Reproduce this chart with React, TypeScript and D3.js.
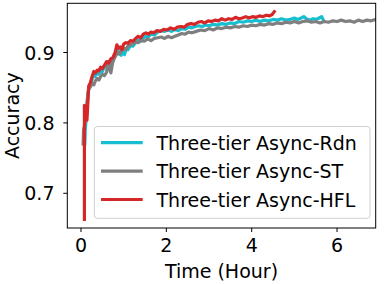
import React from "react";
import * as d3 from "d3";

const xTicks = [0, 2, 4, 6];
const yTicks = [0.7, 0.8, 0.9];
const seriesNames = ["Three-tier Async-Rdn", "Three-tier Async-ST", "Three-tier Async-HFL"];
const seriesColors = ["#17becf", "#7f7f7f", "#d62728"];

const rdnTime = [0.09,0.10,0.13,0.17,0.21,0.25,0.29,0.33,0.37,0.41,0.45,0.49,0.53,0.57,0.62,0.67,0.72,0.77,0.82,0.86,0.90,0.94,0.98,1.02,1.06,1.10,1.16,1.22,1.28,1.34,1.40,1.46,1.52,1.58,1.64,1.72,1.80,1.88,1.96,2.04,2.12,2.20,2.28,2.36,2.44,2.52,2.60,2.68,2.76,2.84,2.92,3.00,3.10,3.20,3.30,3.40,3.50,3.60,3.70,3.80,3.90,4.00,4.10,4.20,4.30,4.40,4.50,4.60,4.70,4.80,4.90,5.00,5.08,5.16,5.22,5.28,5.36,5.44,5.52,5.58,5.64,5.68];
const rdnAcc = [0.770,0.790,0.812,0.845,0.853,0.860,0.868,0.866,0.872,0.869,0.874,0.872,0.877,0.880,0.884,0.882,0.889,0.891,0.897,0.905,0.898,0.896,0.901,0.897,0.906,0.904,0.910,0.909,0.914,0.918,0.916,0.921,0.923,0.922,0.926,0.925,0.929,0.931,0.930,0.932,0.930,0.933,0.931,0.934,0.933,0.936,0.935,0.937,0.938,0.937,0.939,0.938,0.940,0.939,0.941,0.940,0.942,0.941,0.944,0.943,0.945,0.944,0.946,0.944,0.946,0.945,0.947,0.946,0.948,0.946,0.947,0.949,0.947,0.949,0.951,0.948,0.946,0.948,0.947,0.949,0.951,0.946];

const stTime = [0.05,0.06,0.10,0.14,0.18,0.22,0.26,0.30,0.34,0.38,0.42,0.46,0.50,0.55,0.60,0.64,0.67,0.70,0.74,0.78,0.82,0.86,0.90,0.95,1.00,1.05,1.10,1.16,1.22,1.28,1.34,1.40,1.48,1.56,1.64,1.72,1.80,1.88,1.96,2.04,2.12,2.20,2.28,2.36,2.44,2.52,2.60,2.70,2.80,2.90,3.00,3.10,3.20,3.30,3.40,3.50,3.60,3.70,3.80,3.90,4.00,4.10,4.20,4.30,4.40,4.50,4.60,4.70,4.80,4.90,5.00,5.10,5.20,5.30,5.40,5.50,5.60,5.70,5.80,5.90,6.00,6.10,6.20,6.30,6.40,6.50,6.60,6.70,6.80,6.90,7.00];
const stAcc = [0.770,0.790,0.800,0.830,0.848,0.851,0.856,0.854,0.860,0.863,0.861,0.866,0.869,0.867,0.872,0.887,0.878,0.871,0.885,0.892,0.896,0.900,0.898,0.903,0.906,0.904,0.909,0.911,0.913,0.915,0.914,0.917,0.916,0.919,0.917,0.920,0.921,0.922,0.920,0.923,0.921,0.923,0.925,0.927,0.926,0.929,0.928,0.930,0.932,0.931,0.934,0.932,0.935,0.934,0.936,0.935,0.937,0.936,0.938,0.937,0.939,0.938,0.940,0.939,0.941,0.940,0.942,0.941,0.943,0.942,0.944,0.942,0.944,0.945,0.943,0.944,0.942,0.944,0.943,0.945,0.944,0.946,0.944,0.945,0.943,0.946,0.944,0.946,0.945,0.947,0.946];

const hflTime = [0.08,0.08,0.11,0.14,0.18,0.22,0.26,0.30,0.34,0.38,0.42,0.46,0.50,0.55,0.60,0.65,0.70,0.75,0.80,0.84,0.88,0.92,0.96,1.00,1.05,1.10,1.16,1.22,1.28,1.34,1.40,1.46,1.52,1.58,1.64,1.70,1.78,1.86,1.94,2.02,2.10,2.18,2.26,2.34,2.42,2.50,2.58,2.66,2.74,2.82,2.90,2.98,3.06,3.14,3.22,3.30,3.38,3.46,3.54,3.62,3.70,3.78,3.86,3.94,4.02,4.10,4.18,4.26,4.34,4.42,4.48,4.53];
const hflAcc = [0.663,0.825,0.822,0.804,0.852,0.857,0.866,0.873,0.871,0.875,0.874,0.879,0.877,0.882,0.887,0.885,0.891,0.893,0.900,0.911,0.906,0.908,0.904,0.912,0.914,0.913,0.917,0.916,0.920,0.923,0.921,0.926,0.928,0.926,0.929,0.928,0.931,0.930,0.933,0.932,0.935,0.933,0.936,0.937,0.936,0.940,0.941,0.940,0.943,0.944,0.942,0.945,0.944,0.946,0.945,0.948,0.946,0.948,0.947,0.950,0.948,0.949,0.951,0.949,0.951,0.950,0.952,0.951,0.953,0.952,0.954,0.958];

const allTimes = [rdnTime, stTime, hflTime];
const allAcc = [rdnAcc, stAcc, hflAcc];

const W = 384, H = 284;
const L = 67.3, R = 375.7, T = 3.3, B = 228;
const FONT = "DejaVu Sans, sans-serif";
const FS = 19;

export default function App() {
  const x = d3.scaleLinear().domain([-0.321, 6.906]).range([L, R]);
  const y = d3.scaleLinear().domain([0.6507, 0.9699]).range([B, T]);
  const line = d3.line<[number, number]>().x(d => x(d[0])).y(d => y(d[1]));

  const legendX = 94.3, legendY = 126.5, legendW = 275.7, legendH = 91.8;
  const rowY = [142.7, 171.2, 199.5];

  return (
    <svg width={W} height={H} style={{ position: "absolute", left: 0, top: 0, background: "#fff" }} fontFamily={FONT}>
      <defs>
        <clipPath id="plotclip">
          <rect x={L} y={T} width={R - L} height={B - T} />
        </clipPath>
      </defs>
      <rect x={0} y={0} width={W} height={H} fill="#fff" />
      <g clipPath="url(#plotclip)">
        {allTimes.map((ts, i) => {
          const pts: [number, number][] = ts.map((t, j) => [t, allAcc[i][j]]);
          return (
            <path key={i} d={line(pts) || ""} fill="none" stroke={seriesColors[i]} strokeWidth={3.2} strokeLinejoin="round" strokeLinecap="square" />
          );
        })}
      </g>
      <rect x={L} y={T} width={R - L} height={B - T} fill="none" stroke="#000" strokeWidth={1} />
      {xTicks.map(t => (
        <g key={"x" + t}>
          <line x1={x(t)} x2={x(t)} y1={B} y2={B + 4} stroke="#000" strokeWidth={1} />
          <text x={x(t)} y={252} textAnchor="middle" fontSize={FS} fill="#000">{t}</text>
        </g>
      ))}
      {yTicks.map(v => (
        <g key={"y" + v}>
          <line x1={L - 4} x2={L} y1={y(v)} y2={y(v)} stroke="#000" strokeWidth={1} />
          <text x={54.5} y={y(v) + 7} textAnchor="end" fontSize={FS} fill="#000">{v.toFixed(1)}</text>
        </g>
      ))}
      <text x={(L + R) / 2} y={277.5} textAnchor="middle" fontSize={FS} fill="#000">Time (Hour)</text>
      <text transform={`translate(19, ${(T + B) / 2}) rotate(-90)`} textAnchor="middle" fontSize={FS} fill="#000">Accuracy</text>
      <rect x={legendX} y={legendY} width={legendW} height={legendH} rx={3} ry={3} fill="#fff" fillOpacity={0.8} stroke="#d0d0d0" strokeWidth={1} />
      {seriesNames.map((n, i) => (
        <g key={n}>
          <line x1={101} x2={142.7} y1={rowY[i]} y2={rowY[i]} stroke={seriesColors[i]} strokeWidth={3.2} />
          <text x={156.5} y={rowY[i] + 7} fontSize={FS} fill="#000">{n}</text>
        </g>
      ))}
    </svg>
  );
}
